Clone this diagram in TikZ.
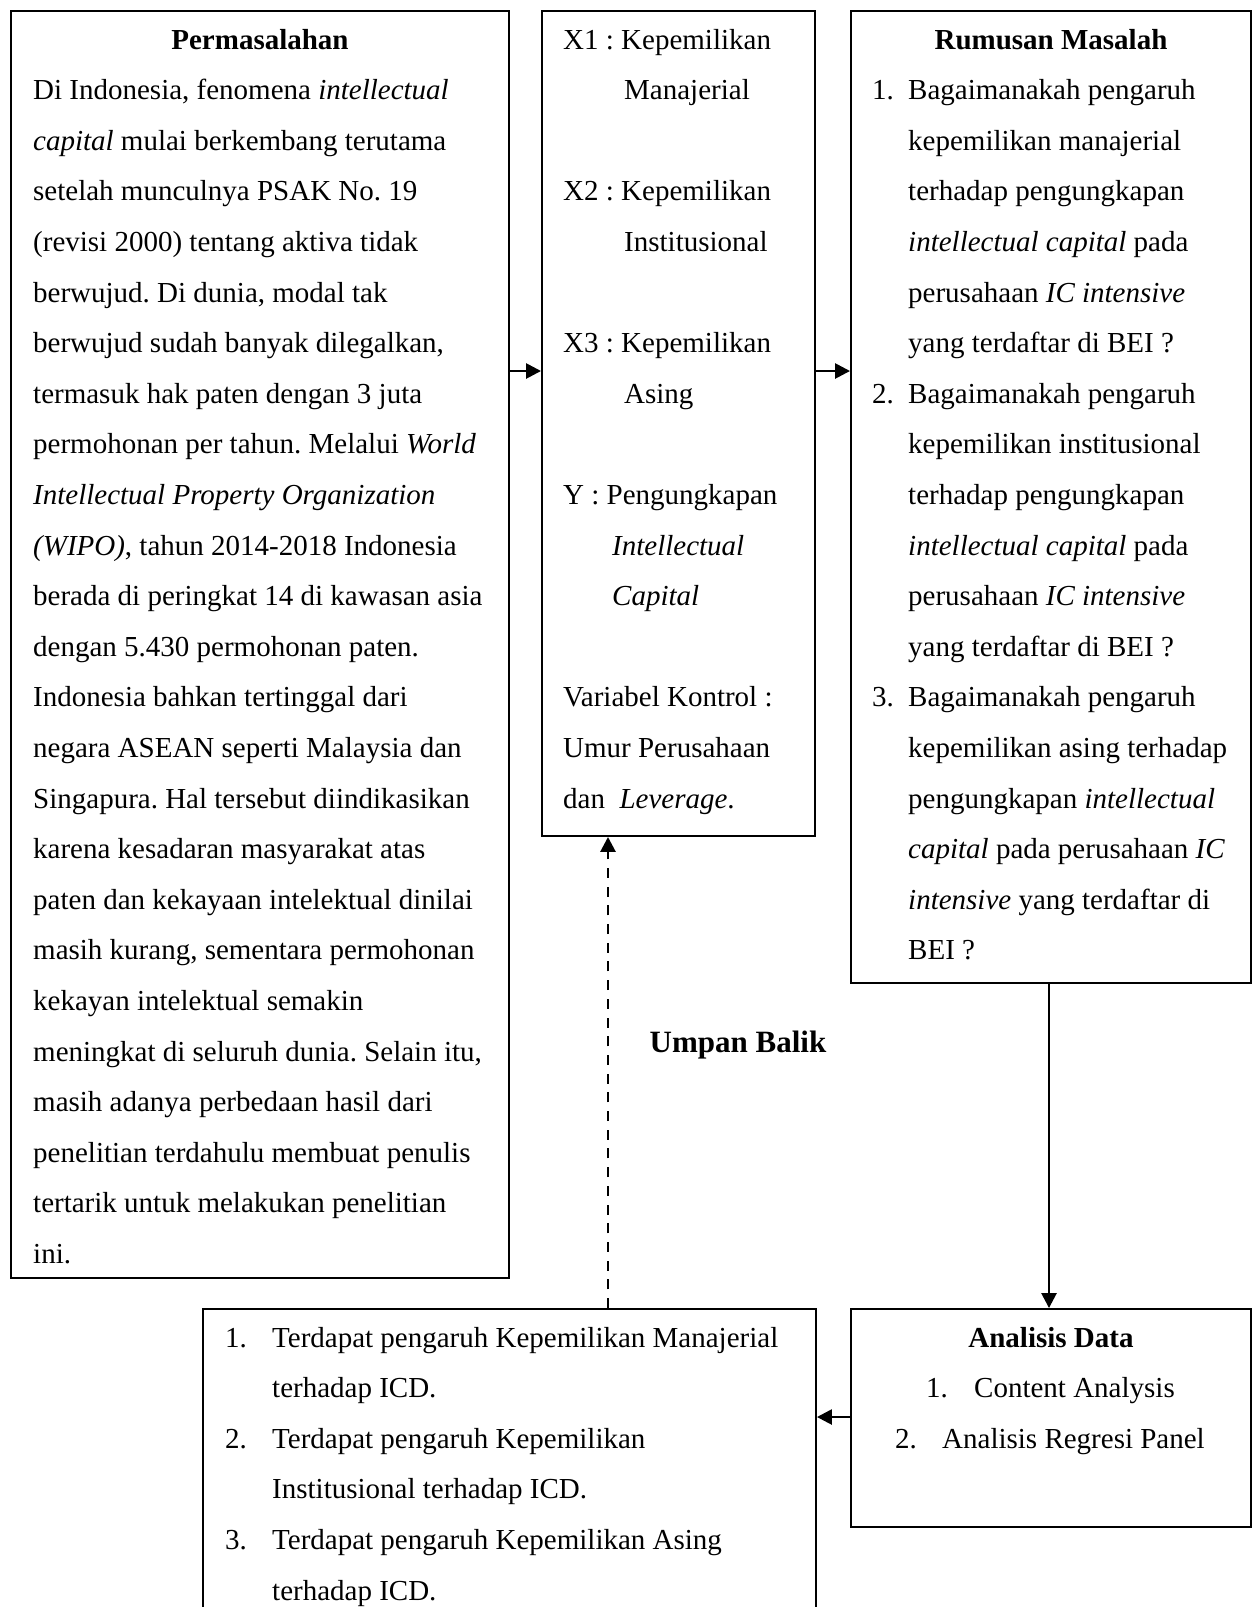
\documentclass[tikz,border=0pt]{standalone}
\usepackage{fontspec}
\setmainfont{Liberation Serif}
\usetikzlibrary{arrows.meta}
\frenchspacing
\tikzset{
  box/.style={draw, line width=1.9pt, inner sep=0pt, rectangle},
  txt/.style={inner sep=0pt, anchor=base west, font=\fontsize{29}{35}\selectfont},
  head/.style={inner sep=0pt, anchor=base, font=\fontsize{29}{35}\selectfont\bfseries},
  conn/.style={line width=2.6pt, -{Triangle[length=15pt,width=15pt]}},
}
\newcommand\tn[4]{\node[txt] (#1) at (#2,{49+50.6*(#3-1)}) {#4};}
\newcommand\ta[4]{\node[txt] (#1) at (#2,#3) {#4};}
\begin{document}
\begin{tikzpicture}[x=1pt,y=-1pt]
\useasboundingbox (0,0) rectangle (1256,1607);
\clip (0,0) rectangle (1256,1607);
\fill[white] (0,0) rectangle (1256,1607);
% boxes
\node[box, minimum width=498pt, minimum height=1267pt] (perm) at (260,644.5) {};
\node[box, minimum width=273pt, minimum height=825pt] (var) at (678.5,423.5) {};
\node[box, minimum width=400pt, minimum height=972pt] (rum) at (1051,497) {};
\node[box, minimum width=400pt, minimum height=218pt] (ana) at (1051,1418) {};
\node[box, minimum width=613pt, minimum height=351pt] (hasil) at (509.5,1484.5) {};
% Permasalahan
\node[head] (permh) at (260,49) {Permasalahan};
\tn{p2}{33}{2}{Di Indonesia, fenomena \textit{intellectual}}
\tn{p3}{33}{3}{\textit{capital} mulai berkembang terutama}
\tn{p4}{33}{4}{setelah munculnya PSAK No. 19}
\tn{p5}{33}{5}{(revisi 2000) tentang aktiva tidak}
\tn{p6}{33}{6}{berwujud. Di dunia, modal tak}
\tn{p7}{33}{7}{berwujud sudah banyak dilegalkan,}
\tn{p8}{33}{8}{termasuk hak paten dengan 3 juta}
\tn{p9}{33}{9}{permohonan per tahun. Melalui \textit{World}}
\tn{p10}{33}{10}{\textit{Intellectual Property Organization}}
\tn{p11}{33}{11}{\textit{(WIPO)}, tahun 2014-2018 Indonesia}
\tn{p12}{33}{12}{berada di peringkat 14 di kawasan asia}
\tn{p13}{33}{13}{dengan 5.430 permohonan paten.}
\tn{p14}{33}{14}{Indonesia bahkan tertinggal dari}
\tn{p15}{33}{15}{negara ASEAN seperti Malaysia dan}
\tn{p16}{33}{16}{Singapura. Hal tersebut diindikasikan}
\tn{p17}{33}{17}{karena kesadaran masyarakat atas}
\tn{p18}{33}{18}{paten dan kekayaan intelektual dinilai}
\tn{p19}{33}{19}{masih kurang, sementara permohonan}
\tn{p20}{33}{20}{kekayan intelektual semakin}
\tn{p21}{33}{21}{meningkat di seluruh dunia. Selain itu,}
\tn{p22}{33}{22}{masih adanya perbedaan hasil dari}
\tn{p23}{33}{23}{penelitian terdahulu membuat penulis}
\tn{p24}{33}{24}{tertarik untuk melakukan penelitian}
\tn{p25}{33}{25}{ini.}
% Variables
\tn{v1}{563}{1}{X1 : Kepemilikan}
\tn{v2}{624}{2}{Manajerial}
\tn{v4}{563}{4}{X2 : Kepemilikan}
\tn{v5}{624}{5}{Institusional}
\tn{v7}{563}{7}{X3 : Kepemilikan}
\tn{v8}{624}{8}{Asing}
\tn{v10}{563}{10}{Y : Pengungkapan}
\tn{v11}{612}{11}{\textit{Intellectual}}
\tn{v12}{612}{12}{\textit{Capital}}
\tn{v14}{563}{14}{Variabel Kontrol :}
\tn{v15}{563}{15}{Umur Perusahaan}
\tn{v16}{563}{16}{dan\ \ \textit{Leverage}.}
% Rumusan Masalah
\node[head] (rumh) at (1051,49) {Rumusan Masalah};
\tn{r2n}{872}{2}{1.}
\tn{r2}{908}{2}{Bagaimanakah pengaruh}
\tn{r3}{908}{3}{kepemilikan manajerial}
\tn{r4}{908}{4}{terhadap pengungkapan}
\tn{r5}{908}{5}{\textit{intellectual capital} pada}
\tn{r6}{908}{6}{perusahaan \textit{IC intensive}}
\tn{r7}{908}{7}{yang terdaftar di BEI ?}
\tn{r8n}{872}{8}{2.}
\tn{r8}{908}{8}{Bagaimanakah pengaruh}
\tn{r9}{908}{9}{kepemilikan institusional}
\tn{r10}{908}{10}{terhadap pengungkapan}
\tn{r11}{908}{11}{\textit{intellectual capital} pada}
\tn{r12}{908}{12}{perusahaan \textit{IC intensive}}
\tn{r13}{908}{13}{yang terdaftar di BEI ?}
\tn{r14n}{872}{14}{3.}
\tn{r14}{908}{14}{Bagaimanakah pengaruh}
\tn{r15}{908}{15}{kepemilikan asing terhadap}
\tn{r16}{908}{16}{pengungkapan \textit{intellectual}}
\tn{r17}{908}{17}{\textit{capital} pada perusahaan \textit{IC}}
\tn{r18}{908}{18}{\textit{intensive} yang terdaftar di}
\tn{r19}{908}{19}{BEI ?}
% Analisis Data
\node[head] (anah) at (1051,1347) {Analisis Data};
\ta{a1n}{926}{1397.6}{1.}
\ta{a1}{974}{1397.6}{Content Analysis}
\ta{a2n}{895}{1448.2}{2.}
\ta{a2}{942}{1448.2}{Analisis Regresi Panel}
% Hasil
\ta{h1n}{225}{1347}{1.}
\ta{h1}{272}{1347}{Terdapat pengaruh Kepemilikan Manajerial}
\ta{h2}{272}{1397.6}{terhadap ICD.}
\ta{h3n}{225}{1448.2}{2.}
\ta{h3}{272}{1448.2}{Terdapat pengaruh Kepemilikan}
\ta{h4}{272}{1498.8}{Institusional terhadap ICD.}
\ta{h5n}{225}{1549.4}{3.}
\ta{h5}{272}{1549.4}{Terdapat pengaruh Kepemilikan Asing}
\ta{h6}{272}{1600}{terhadap ICD.}
% Umpan balik
\node[inner sep=0pt, anchor=base, font=\fontsize{31}{37}\selectfont\bfseries] (umpan) at (738,1052) {Umpan Balik};
% connectors
\draw[conn] (perm.east |- 0,371) -- (var.west |- 0,371);
\draw[conn] (var.east |- 0,371) -- (rum.west |- 0,371);
\draw[conn] (rum.south -| 1049,0) -- (ana.north -| 1049,0);
\draw[conn] (ana.west |- 0,1417) -- (hasil.east |- 0,1417);
\draw[conn, line width=2.8pt, dash pattern=on 10pt off 8.7pt] (hasil.north -| 608,0) -- (var.south -| 608,0);
\end{tikzpicture}
\end{document}
